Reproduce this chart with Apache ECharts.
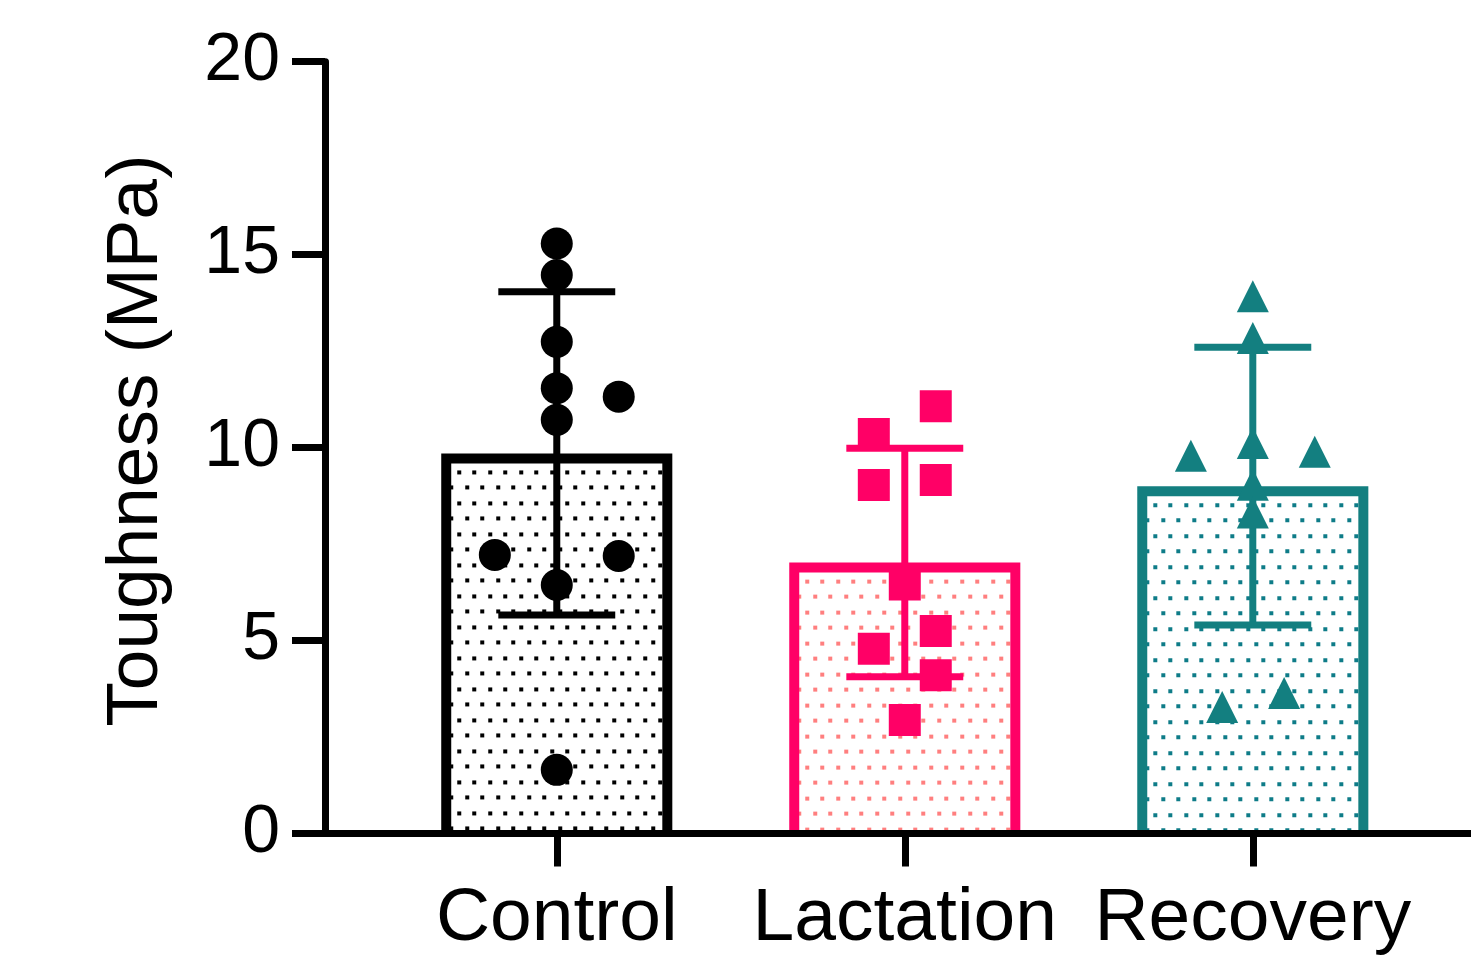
<!DOCTYPE html>
<html><head><meta charset="utf-8">
<script src="https://cdn.jsdelivr.net/npm/echarts@6/dist/echarts.min.js"></script>
<style>html,body{margin:0;padding:0;background:#fff;}#c{width:1471px;height:961px;}</style>
</head><body><div id="c"></div>
<script>
// ---- data ----
const categories = ['Control', 'Lactation', 'Recovery'];
const means = [9.85, 7.02, 9.0];
const sds = [4.19, 2.96, 3.6];
const controlValues = [15.29, 14.47, 12.74, 11.54, 10.72, 11.32, 7.22, 7.19, 6.44, 1.65];
const controlJitter = [0, 0, 0, 0, 0, 0.178, -0.178, 0.178, 0, 0];
const lactationValues = [11.07, 10.35, 9.03, 9.16, 6.45, 5.25, 4.79, 4.10, 2.94];
const lactationJitter = [0.089, -0.089, -0.089, 0.089, 0, 0.089, -0.089, 0.089, 0];
const recoveryValues = [13.92, 12.84, 10.12, 9.79, 9.89, 9.04, 8.32, 3.28, 3.64];
const recoveryJitter = [0, 0, 0, -0.178, 0.178, 0, 0, -0.088, 0.09];
const yTicks = [0, 5, 10, 15, 20];

// ---- style ----
const colors = ['#000000', '#FF0066', '#137F80'];
const dotColors = ['#000000', '#FF7F7F', '#0E7C88'];
const BAR_W = 0.664;
const CAP_W = 0.336;
const BORDER = 10;
const FONT = '"Liberation Sans", Arial, Helvetica, sans-serif';

function makePattern(dot) {
  const c = document.createElement('canvas');
  c.width = 31; c.height = 31;
  const g = c.getContext('2d');
  g.fillStyle = '#ffffff'; g.fillRect(0, 0, 31, 31);
  g.fillStyle = dot;
  g.fillRect(0, 0, 4, 4); g.fillRect(15, 0, 4, 4);
  g.fillRect(8, 15, 4, 4); g.fillRect(23, 15, 4, 4);
  return c;
}
const patterns = dotColors.map(makePattern);

const chart = echarts.init(document.getElementById('c'), null, {renderer: 'canvas'});

const groups = [
  {values: controlValues, jitter: controlJitter, symbol: 'circle'},
  {values: lactationValues, jitter: lactationJitter, symbol: 'rect'},
  {values: recoveryValues, jitter: recoveryJitter, symbol: 'triangle'}
];

const scatterSeries = groups.map((g, i) => ({
  type: 'scatter',
  z: 5,
  symbol: g.symbol,
  symbolSize: 32,
  itemStyle: {color: colors[i], opacity: 1},
  data: g.values.map((v, k) => [i + g.jitter[k], v])
}));

chart.setOption({
  animation: false,
  backgroundColor: '#ffffff',
  grid: {left: 325, right: 0, top: 61.7, bottom: 127.5, containLabel: false, outerBoundsMode: 'none'},
  xAxis: {
    type: 'value', min: -0.666, max: 2.627, z: 10,
    splitLine: {show: false},
    axisLine: {show: true, onZero: false, lineStyle: {color: '#000', width: 7}},
    axisTick: {show: true, customValues: [0, 1, 2], length: 33, lineStyle: {color: '#000', width: 7}},
    axisLabel: {
      customValues: [0, 1, 2],
      formatter: v => categories[Math.round(v)] || '',
      fontSize: 75, color: '#000', fontFamily: FONT, margin: 48
    }
  },
  yAxis: {
    type: 'value', min: yTicks[0], max: yTicks[yTicks.length - 1], interval: 5, z: 10,
    splitLine: {show: false},
    axisLine: {show: true, onZero: false, lineStyle: {color: '#000', width: 7}},
    axisTick: {show: true, length: 33, lineStyle: {color: '#000', width: 7}},
    axisLabel: {fontSize: 68, color: '#000', fontFamily: FONT, margin: 45},
    name: 'Toughness (MPa)', nameLocation: 'middle', nameGap: 152,
    nameTextStyle: {fontSize: 73, color: '#000', fontFamily: FONT, padding: [0, 0, 0, 14]}
  },
  series: [
    {
      type: 'custom', z: 2,
      data: means.map((m, i) => [i, m]),
      renderItem: function (params, api) {
        const i = api.value(0);
        const top = api.coord([i, api.value(1)]);
        const base = api.coord([i, 0]);
        const w = api.size([BAR_W, 0])[0];
        const idx = params.dataIndex;
        const xl = top[0] - w / 2 + BORDER / 2;
        const xr = top[0] + w / 2 - BORDER / 2;
        const yt = top[1] + BORDER / 2;
        return {
          type: 'group',
          children: [
            {
              type: 'rect',
              shape: {x: xl, y: yt, width: xr - xl, height: base[1] - yt},
              style: {fill: {image: patterns[idx], repeat: 'repeat', x: xl + BORDER / 2 + 6, y: yt + BORDER / 2 + 7}}
            },
            {
              type: 'polyline',
              shape: {points: [[xl, base[1]], [xl, yt], [xr, yt], [xr, base[1]]]},
              style: {fill: null, stroke: colors[idx], lineWidth: BORDER, lineJoin: 'miter'}
            }
          ]
        };
      }
    },
    {
      type: 'custom', z: 3,
      data: means.map((m, i) => [i, m - sds[i], m + sds[i]]),
      renderItem: function (params, api) {
        const i = api.value(0);
        const lo = api.coord([i, api.value(1)]);
        const hi = api.coord([i, api.value(2)]);
        const hw = api.size([CAP_W, 0])[0] / 2;
        const st = {stroke: colors[params.dataIndex], lineWidth: 7};
        return {
          type: 'group',
          children: [
            {type: 'line', shape: {x1: lo[0], y1: lo[1], x2: hi[0], y2: hi[1]}, style: st},
            {type: 'line', shape: {x1: hi[0] - hw, y1: hi[1], x2: hi[0] + hw, y2: hi[1]}, style: st},
            {type: 'line', shape: {x1: lo[0] - hw, y1: lo[1], x2: lo[0] + hw, y2: lo[1]}, style: st}
          ]
        };
      }
    }
  ].concat(scatterSeries)
});
</script>
</body></html>
